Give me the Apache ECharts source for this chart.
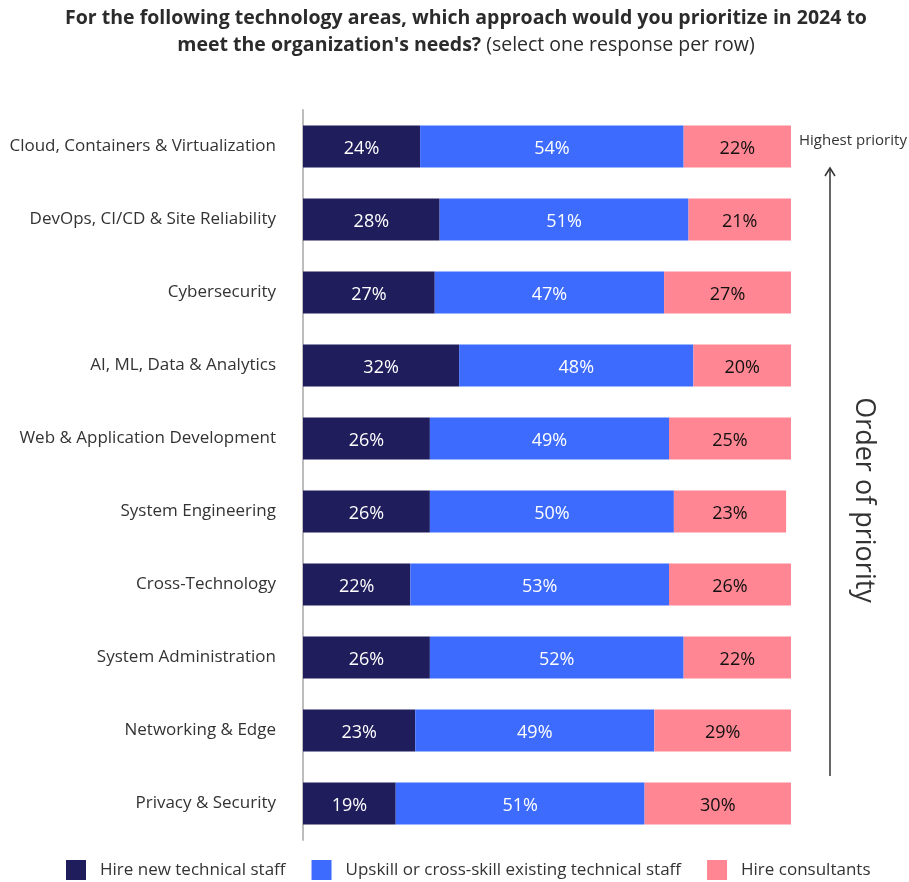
<!DOCTYPE html>
<html>
<head>
<meta charset="utf-8">
<script src="https://cdn.jsdelivr.net/npm/echarts@6/dist/echarts.min.js"></script>
<style>
html,body{margin:0;padding:0;background:#fff;}
#chart{width:909px;height:882px;}
</style>
</head>
<body>
<div id="chart"></div>
<script>
const categories = [
  "Cloud, Containers & Virtualization",
  "DevOps, CI/CD & Site Reliability",
  "Cybersecurity",
  "AI, ML, Data & Analytics",
  "Web & Application Development",
  "System Engineering",
  "Cross-Technology",
  "System Administration",
  "Networking & Edge",
  "Privacy & Security"
];
const hireNew = [24, 28, 27, 32, 26, 26, 22, 26, 23, 19];
const upskill = [54, 51, 47, 48, 49, 50, 53, 52, 49, 51];
const consultants = [22, 21, 27, 20, 25, 23, 26, 22, 29, 30];
const seriesNames = ["Hire new technical staff", "Upskill or cross-skill existing technical staff", "Hire consultants"];
const colors = ["#1f1d5c", "#3d6bfd", "#ff8692"];
const FONT = "'Open Sans', 'Noto Sans', sans-serif";

const chart = echarts.init(document.getElementById('chart'), null, {renderer: 'canvas'});

function mk(name, data, color, labelColor) {
  return {
    name: name,
    type: 'bar',
    stack: 'total',
    data: data,
    barWidth: 42,
    itemStyle: {color: color},
    label: {
      show: true,
      position: 'inside',
      offset: [0, 2],
      formatter: p => p.value + '%',
      color: labelColor,
      fontSize: 18,
      fontFamily: FONT
    },
    emphasis: {disabled: true}
  };
}

chart.setOption({
  animation: false,
  backgroundColor: '#fff',
  title: {
    left: 461,
    top: 0,
    textAlign: 'center',
    text: "{b|For the following technology areas, which approach would you prioritize in 2024 to}\n{b|meet the organization's needs?} {n|(select one response per row)}",
    textStyle: {
      rich: {
        b: {fontSize: 19.5, fontWeight: 'bold', color: '#2b2b2b', fontFamily: FONT, lineHeight: 27},
        n: {fontSize: 19.5, fontWeight: 'normal', color: '#2b2b2b', fontFamily: FONT, lineHeight: 27}
      }
    }
  },
  legend: {
    top: 855,
    left: 61,
    itemWidth: 20,
    itemHeight: 20,
    itemGap: 26,
    icon: 'rect',
    textStyle: {fontSize: 17, color: '#333', fontFamily: FONT, padding: [0, 0, 0, 9]},
    data: seriesNames
  },
  grid: {left: 303, right: 118, top: 110, height: 730, containLabel: false},
  xAxis: {
    type: 'value', min: 0, max: 100, show: false
  },
  yAxis: {
    type: 'category',
    data: categories,
    inverse: true,
    axisTick: {show: false},
    axisLine: {show: true, lineStyle: {color: '#bdbdbd', width: 2}},
    axisLabel: {margin: 27, fontSize: 17, color: '#333', fontFamily: FONT}
  },
  series: [
    mk(seriesNames[0], hireNew, colors[0], '#fff'),
    mk(seriesNames[1], upskill, colors[1], '#fff'),
    mk(seriesNames[2], consultants, colors[2], '#111')
  ],
  graphic: [
    {type: 'text', left: 799, top: 133, style: {text: 'Highest priority', fontSize: 15, fill: '#333', fontFamily: FONT}},
    {type: 'line', shape: {x1: 830, y1: 168, x2: 830, y2: 776}, style: {stroke: '#333', lineWidth: 1.5}},
    {type: 'polyline', shape: {points: [[825, 176], [830, 168], [835, 176]]}, style: {stroke: '#333', lineWidth: 1.5, fill: null}},
    {type: 'text', x: 864, y: 500, rotation: -Math.PI / 2,
      style: {text: 'Order of priority', fontSize: 27, fill: '#333', fontFamily: FONT, align: 'center', verticalAlign: 'middle'}}
  ]
});
</script>
</body>
</html>
